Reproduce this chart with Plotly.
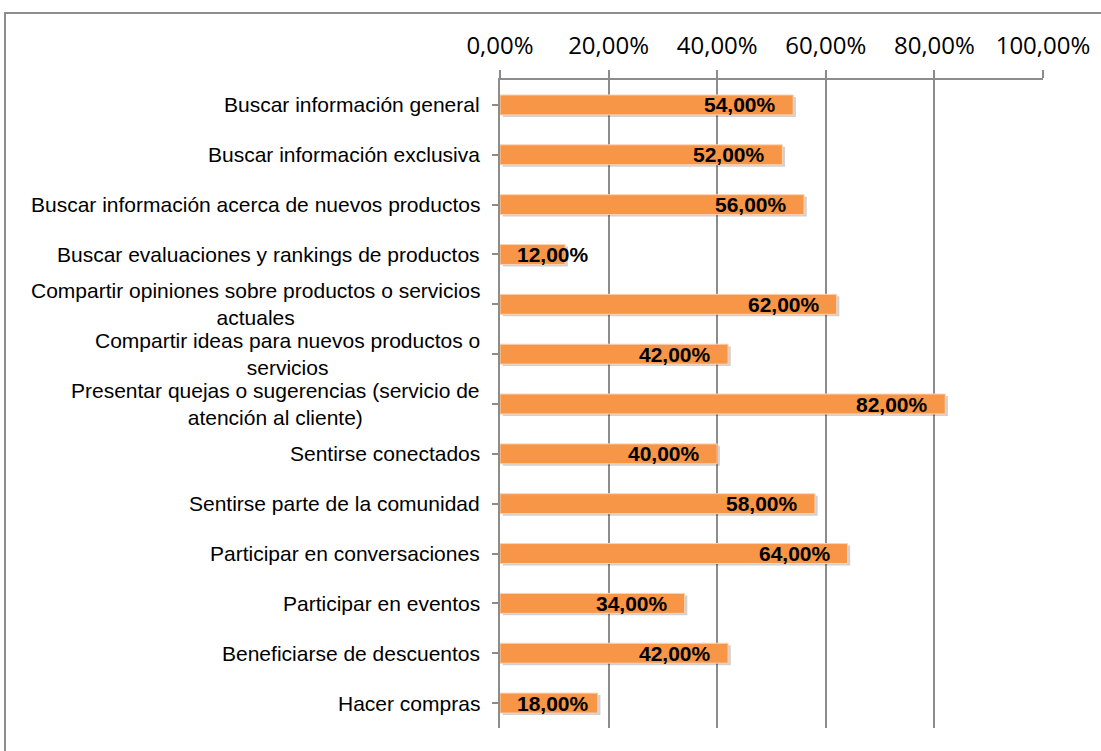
import plotly.graph_objects as go

categories = [
    "Buscar información general",
    "Buscar información exclusiva",
    "Buscar información acerca de nuevos productos",
    "Buscar evaluaciones y rankings de productos",
    "Compartir opiniones sobre productos o servicios<br>actuales",
    "Compartir ideas para nuevos productos o<br>servicios",
    "Presentar quejas o sugerencias (servicio de<br>atención al cliente)",
    "Sentirse conectados",
    "Sentirse parte de la comunidad",
    "Participar en conversaciones",
    "Participar en eventos",
    "Beneficiarse de descuentos",
    "Hacer compras",
]
values = [54, 52, 56, 12, 62, 42, 82, 40, 58, 64, 34, 42, 18]
tick_vals = [0, 20, 40, 60, 80, 100]
tick_text = ["0,00%", "20,00%", "40,00%", "60,00%", "80,00%", "100,00%"]

W, H = 1101, 751
L, R, T, B = 500, 58, 80, 23
plot_w = W - L - R
plot_h = H - T - B
px_per_unit = plot_w / 100.0

ids = list(range(len(categories)))
fmt = lambda v: f"{v:.2f}".replace(".", ",") + "%"

fig = go.Figure()
# soft shadow behind bars
fig.add_trace(go.Bar(
    y=ids, x=values, base=0.5, orientation="h",
    width=0.4, offset=-0.16,
    marker=dict(color="rgba(0,0,0,0.18)", line=dict(width=0)),
    hoverinfo="skip", showlegend=False,
))
fig.add_trace(go.Bar(
    y=ids, x=values, orientation="h",
    width=0.4,
    marker=dict(color="#F79646", line=dict(color="#FBD3B5", width=1)),
    showlegend=False,
))

annotations = []
label_w = 72
for i, v in enumerate(values):
    if v * px_per_unit - 17 - label_w < 17:
        ann = dict(x=0, xanchor="left", xshift=15)
    else:
        ann = dict(x=v, xanchor="right", xshift=-15)
    ann.update(y=i, xref="x", yref="y", text="<b>" + fmt(v) + "</b>",
               showarrow=False, yanchor="middle",
               font=dict(family="Liberation Sans, Arial", size=21, color="#000000"))
    annotations.append(ann)

for i, c in enumerate(categories):
    annotations.append(dict(x=0, y=i, xref="paper", yref="y", text=c,
                            showarrow=False, xanchor="right", xshift=-18,
                            align="center", yanchor="middle",
                            font=dict(family="Liberation Sans, Arial", size=21, color="#000000")))

fig.update_layout(
    width=W, height=H,
    margin=dict(l=L, r=R, t=T, b=B),
    paper_bgcolor="white", plot_bgcolor="white",
    barmode="overlay",
    annotations=annotations,
    xaxis=dict(
        side="top", range=[0, 100],
        tickvals=tick_vals, ticktext=tick_text,
        tickfont=dict(family="Open Sans", size=24, color="#000000"),
        ticklabelstandoff=6,
        showgrid=True, gridcolor="#8C8C8C", gridwidth=1.5,
        ticks="outside", ticklen=8, tickcolor="#8C8C8C", tickwidth=1.5,
        showline=True, linecolor="#8C8C8C", linewidth=2,
        zeroline=False, fixedrange=True,
    ),
    yaxis=dict(
        range=[len(categories) - 0.5, -0.5],
        tickvals=ids, showticklabels=False,
        tickson="boundaries", ticks="outside", ticklen=6,
        tickcolor="#8C8C8C", tickwidth=1.5,
        showline=True, linecolor="#8C8C8C", linewidth=2,
        showgrid=False, zeroline=False,
    ),
    shapes=[dict(
        type="rect", xref="paper", yref="paper",
        x0=(5 - L) / plot_w, x1=(W + 10 - L) / plot_w,
        y0=-(B + 10) / plot_h, y1=1 + (T - 13) / plot_h,
        line=dict(color="#8C8C8C", width=2), fillcolor="rgba(0,0,0,0)",
        layer="below",
    )],
)

fig.write_html("out.html", config={"displayModeBar": False},
               post_script="document.body.style.margin='0';document.body.style.overflow='hidden';")
